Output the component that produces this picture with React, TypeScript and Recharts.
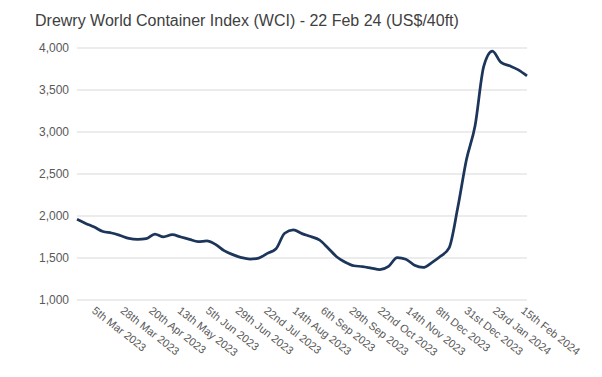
import { LineChart, Line, XAxis, YAxis, CartesianGrid } from 'recharts';

// weekly WCI readings, 23 Feb 2023 .. 22 Feb 2024 (US$/40ft)
const START = Date.UTC(2023, 1, 23);
const DAY = 86400000;

const wciValues = [
  1961, 1912, 1868, 1815, 1798, 1768, 1733, 1722, 1730, 1785,
  1752, 1777, 1750, 1722, 1695, 1703, 1662, 1588, 1540, 1505,
  1487, 1499, 1555, 1610, 1795, 1835, 1790, 1755, 1715, 1620,
  1515, 1450, 1408, 1398, 1380, 1362, 1400, 1505, 1485, 1415,
  1388, 1445, 1520, 1620, 2100, 2670, 3075, 3780, 3962, 3828,
  3788, 3740, 3668,
];

const tickLabels = [
  '5th Mar 2023', '28th Mar 2023', '20th Apr 2023', '13th May 2023',
  '5th Jun 2023', '29th Jun 2023', '22nd Jul 2023', '14th Aug 2023',
  '6th Sep 2023', '29th Sep 2023', '22nd Oct 2023', '14th Nov 2023',
  '8th Dec 2023', '31st Dec 2023', '23rd Jan 2024', '15th Feb 2024',
];

const tickDates: [number, number, number][] = [
  [2023, 2, 5], [2023, 2, 28], [2023, 3, 20], [2023, 4, 13],
  [2023, 5, 5], [2023, 5, 29], [2023, 6, 22], [2023, 7, 14],
  [2023, 8, 6], [2023, 8, 29], [2023, 9, 22], [2023, 10, 14],
  [2023, 11, 8], [2023, 11, 31], [2024, 0, 23], [2024, 1, 15],
];

const yTicks = [1000, 1500, 2000, 2500, 3000, 3500, 4000];

const tickDays = tickDates.map(([y, m, d]) => Math.round((Date.UTC(y, m, d) - START) / DAY));
const data = wciValues.map((v, i) => ({ day: i * 7, wci: v }));

const FONT = '"Liberation Sans", Arial, sans-serif';

const DateTick = (props: any) => {
  const { x, y, payload } = props;
  const idx = tickDays.indexOf(payload.value);
  return (
    <g transform={`translate(${x + 2},${y + 10}) rotate(38)`}>
      <text x={0} y={0} textAnchor="start" fill="#595959" fontSize={11} fontFamily={FONT}>
        {tickLabels[idx]}
      </text>
    </g>
  );
};

export default function App() {
  return (
    <div style={{ position: 'absolute', left: 0, top: 0, width: 602, height: 377, background: '#fff' }}>
      <div
        style={{
          position: 'absolute', left: 35, top: 12, fontFamily: FONT, fontSize: 16,
          color: '#404040', whiteSpace: 'nowrap',
        }}
      >
        Drewry World Container Index (WCI) - 22 Feb 24 (US$/40ft)
      </div>
      <LineChart width={602} height={377} data={data} margin={{ top: 48, right: 75, left: 0, bottom: 0 }}>
        <CartesianGrid vertical={false} stroke="#d9d9d9" />
        <XAxis
          type="number"
          dataKey="day"
          domain={[0, 364]}
          ticks={tickDays}
          interval={0}
          tick={<DateTick />}
          axisLine={false}
          tickLine={false}
          tickSize={0}
          height={77}
        />
        <YAxis
          domain={[1000, 4000]}
          ticks={yTicks}
          interval={0}
          tickFormatter={(v) => v.toLocaleString('en-US')}
          tick={{ fill: '#595959', fontSize: 12, fontFamily: FONT }}
          axisLine={false}
          tickLine={false}
          width={77}
        />
        <Line
          type="monotone"
          dataKey="wci"
          stroke="#1c355a"
          strokeWidth={2.75}
          dot={false}
          isAnimationActive={false}
        />
      </LineChart>
    </div>
  );
}
